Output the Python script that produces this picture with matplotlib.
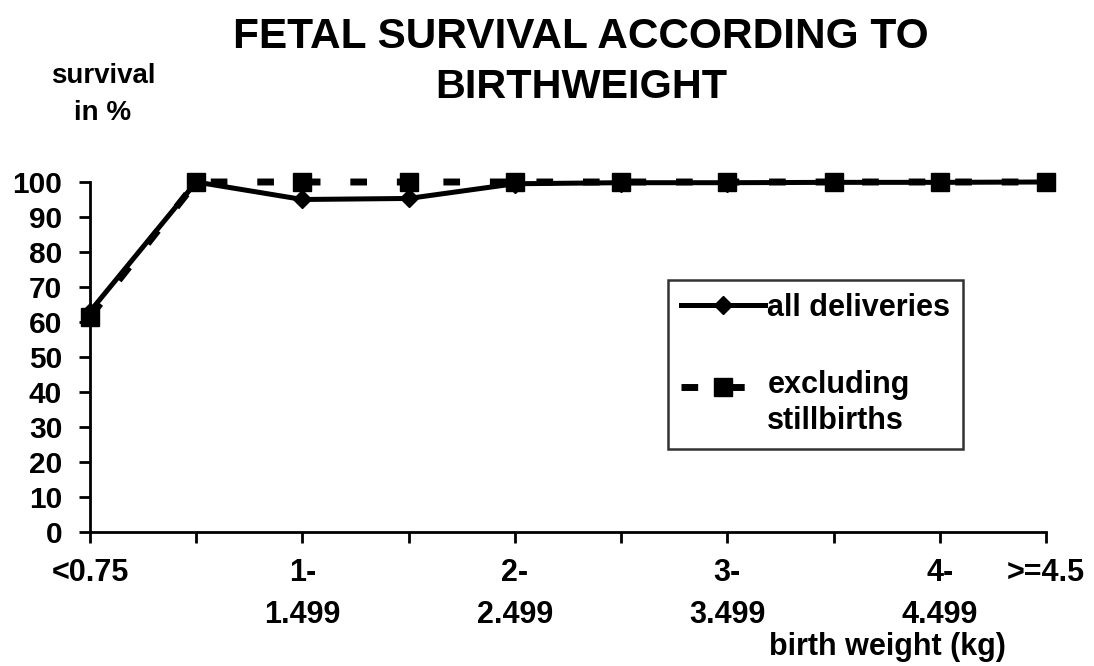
import numpy as np
import matplotlib
matplotlib.use('Agg')
import matplotlib.pyplot as plt
from matplotlib.legend_handler import HandlerLine2D

# categorias de peso al nacer (kg)
categories = ['<0.75', '', '1-\n1.499', '', '2-\n2.499', '', '3-\n3.499', '', '4-\n4.499', '>=4.5']
all_deliveries = [63, 100, 95, 95.3, 99.5, 99.8, 99.8, 99.9, 99.9, 100]
excl_stillbirths = [61.5, 100, 100, 100, 100, 100, 100, 100, 100, 100]
y_ticks = [0, 10, 20, 30, 40, 50, 60, 70, 80, 90, 100]


# el simbolo de la leyenda va alineado con la primera linea del texto
class HandlerTop(HandlerLine2D):
    def __init__(self, shift=0, **kw):
        HandlerLine2D.__init__(self, **kw)
        self.shift = shift

    def create_artists(self, legend, orig_handle, xdescent, ydescent, width,
                       height, fontsize, trans):
        arts = HandlerLine2D.create_artists(self, legend, orig_handle, xdescent, ydescent,
                                            width, height, fontsize, trans)
        for a in arts:
            a.set_ydata(np.asarray(a.get_ydata()) + self.shift)
        return arts


plt.rcParams['font.family'] = ['Liberation Sans', 'DejaVu Sans']
plt.rcParams['font.weight'] = 'bold'

W, H = 1094., 666.
fig = plt.figure(figsize=(W/100, H/100), dpi=100)
ax = fig.add_axes([90/W, 1-532/H, (1046-90)/W, (532-182)/H])

x = np.arange(len(categories))
l_exc, = ax.plot(x, excl_stillbirths, color='black', lw=5, dashes=(2.4, 4.3),
                 marker='s', ms=13, label='excluding\nstillbirths')
l_all, = ax.plot(x, all_deliveries, color='black', lw=3.6, marker='D', ms=9,
                 label='all deliveries')

ax.set_xlim(0, len(categories)-1)
ax.set_ylim(0, 100)
ax.set_yticks(y_ticks)
ax.set_yticklabels([str(v) for v in y_ticks], fontsize=21.5, fontweight='bold')
ax.set_xticks(x)
ax.set_xticklabels(categories, fontsize=22, fontweight='bold', linespacing=1.5)
ax.tick_params(axis='both', direction='out', length=8, width=2, colors='black')
ax.tick_params(axis='x', pad=11)
ax.tick_params(axis='y', pad=12)
for s in ['top', 'right']:
    ax.spines[s].set_visible(False)
for s in ['left', 'bottom']:
    ax.spines[s].set_linewidth(2)
for ln in ax.lines:
    ln.set_clip_on(False)

leg = fig.legend([l_all, l_exc], [l_all.get_label(), l_exc.get_label()],
                 loc='upper left', bbox_to_anchor=(668/W, 1-280/H),
                 frameon=True, fancybox=False, edgecolor='black',
                 handlelength=2.75, labelspacing=1.55, borderpad=0.42, borderaxespad=0,
                 handletextpad=0.08, prop={'weight': 'bold', 'size': 22},
                 handler_map={l_exc: HandlerTop(shift=12.5)})
leg.get_frame().set_linewidth(1.8)
for t in leg.get_texts():
    t.set_linespacing(1.25)

fig.text(581/W, 1-48/H, 'FETAL SURVIVAL ACCORDING TO', ha='center', va='baseline',
         fontsize=30.5, fontweight='bold')
fig.text(581/W, 1-98/H, 'BIRTHWEIGHT', ha='center', va='baseline',
         fontsize=29.8, fontweight='bold')
fig.text(103/W, 1-83/H, 'survival', ha='center', va='baseline', fontsize=20, fontweight='bold')
fig.text(103/W, 1-120/H, 'in %', ha='center', va='baseline', fontsize=20, fontweight='bold')
fig.text(887/W, 1-655/H, 'birth weight (kg)', ha='center', va='baseline',
         fontsize=22, fontweight='bold')

plt.savefig('out.png', dpi=100)
